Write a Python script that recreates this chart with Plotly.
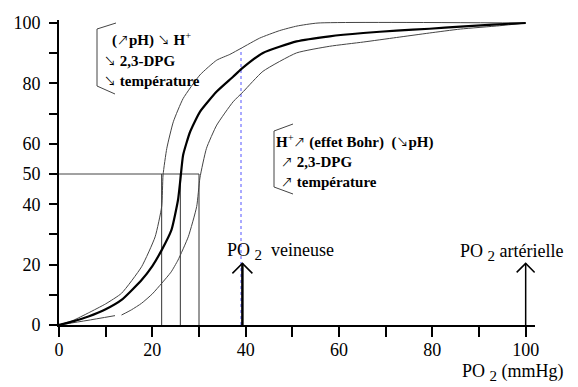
import plotly.graph_objects as go

# ---------------- data ----------------
# Normal HbO2 dissociation curve (thick)
main_x = [0, 3, 6.3, 10, 13.4, 17.7, 20, 22, 24.1, 25.5, 26, 26.6, 28.1, 30.2, 33.8, 37.3, 39.1,
          43.7, 50.9, 58, 65.2, 72.3, 79.4, 86, 93, 100]
main_y = [0, 1.2, 2.8, 5.2, 8.3, 14.9, 19.5, 24.8, 31.5, 41.4, 48, 56.3, 64, 70.6, 77.3, 82.2, 84.8,
          90.1, 93.9, 95.6, 96.7, 97.5, 98.1, 98.8, 99.5, 100]
# Left-shifted curve (higher affinity)
left_x = [0, 3, 6.3, 10, 13.4, 17.7, 20.6, 22, 22.3, 23.1, 24.5, 26.6, 30.2, 33.8, 36.6, 39.1,
          43, 47.3, 51, 55.5, 100]
left_y = [0, 1.5, 4, 7, 10.5, 19.3, 29.2, 39.2, 49.7, 58.5, 67.3, 75, 82.8, 87.7, 89.6, 91.7,
          95, 97.5, 99, 100, 100]
# Right-shifted curve (lower affinity) - small gap as in the original drawing
right_x = [0, 6, 12, None, 13.4, 15.5, 17.7, 20, 22, 24, 25.5, 27.7, 29.5, 30.2, 31.6, 33.8, 37.3,
           39.5, 43.7, 50.9, 58, 65.2, 72.3, 79.4, 86, 94.4, 100]
right_y = [0, 1.5, 3.1, None, 3.3, 5, 7.2, 10.3, 13.8, 17.5, 21.5, 29.2, 39.2, 48.7, 58.5, 66.2, 73.9,
           77.3, 84, 90.1, 92.3, 93.7, 95.2, 96.7, 98, 99.1, 100]

p50_values = [22, 26, 30]          # P50 of the three curves (mmHg)
half_saturation = 50               # %
po2_venous = 39                    # mmHg
po2_arterial = 100                 # mmHg
venous_sat_left = 91.7             # left curve value at venous PO2 (top of dotted line)
arrow_top = 20.4                   # arrows reach ~20 %

x_tickvals = [0, 10, 20, 30, 40, 50, 60, 70, 80, 90, 100]
x_ticktext = ["0", "", "20", "", "40", "", "60", "", "80", "", "100"]
y_tickvals = [0, 10, 20, 30, 40, 50, 60, 70, 80, 90, 100]
y_ticktext = ["0", "", "20", "", "40", "50", "60", "", "80", "", "100"]

# ---------------- layout geometry ----------------
W, H = 578, 387
ML, MR, MT, MB = 59, 43, 20, 62
XR = [0, 102]
YR = [0, 101]
px_x = (W - ML - MR) / (XR[1] - XR[0])   # pixels per x unit
px_y = (H - MT - MB) / (YR[1] - YR[0])   # pixels per y unit

SERIF = "Liberation Serif, Times New Roman, serif"

fig = go.Figure()

# reference lines at 50 %
fig.add_trace(go.Scatter(x=[0, max(p50_values)], y=[half_saturation, half_saturation], mode="lines",
                         line=dict(color="#444444", width=1), hoverinfo="skip", showlegend=False))
for p in p50_values:
    fig.add_trace(go.Scatter(x=[p, p], y=[0, half_saturation], mode="lines",
                             line=dict(color="#333333", width=1), hoverinfo="skip", showlegend=False))

# dotted venous line
fig.add_trace(go.Scatter(x=[po2_venous, po2_venous], y=[0, venous_sat_left], mode="lines",
                         line=dict(color="#5555ff", width=1, dash="dot"), hoverinfo="skip", showlegend=False))

# curves
fig.add_trace(go.Scatter(x=left_x, y=left_y, mode="lines",
                         line=dict(color="#444444", width=1, shape="spline", smoothing=0.5), showlegend=False))
fig.add_trace(go.Scatter(x=right_x, y=right_y, mode="lines",
                         line=dict(color="#444444", width=1, shape="spline", smoothing=0.5), showlegend=False))
fig.add_trace(go.Scatter(x=main_x, y=main_y, mode="lines",
                         line=dict(color="black", width=2.2, shape="spline", smoothing=0.5), showlegend=False))

# arrows (shaft + open chevron head)
def add_arrow(xv, top, width, half_px, tall_px):
    dx = half_px / px_x
    dy = tall_px / px_y
    fig.add_trace(go.Scatter(x=[xv, xv], y=[0, top], mode="lines",
                             line=dict(color="black", width=width), hoverinfo="skip", showlegend=False))
    fig.add_trace(go.Scatter(x=[xv - dx, xv, xv + dx], y=[top - dy, top, top - dy], mode="lines",
                             line=dict(color="black", width=1.5), hoverinfo="skip", showlegend=False))

add_arrow(po2_venous + 0.3, arrow_top, 2.5, 10, 10)
add_arrow(po2_arterial, arrow_top, 1.5, 9, 9)

# pixel -> data / paper helpers
def X(px):
    return (px - ML) / px_x

def Y(py):
    return (H - MB - py) / px_y

def PX(px):
    return (px - ML) / (W - ML - MR)

def PY(py):
    return (H - MB - py) / (H - MT - MB)

# brackets
shapes = [
    dict(type="path", xref="x", yref="y",
         path=f"M {X(116)},{Y(23)} L {X(97)},{Y(29)} L {X(97)},{Y(86)} L {X(115)},{Y(94)}",
         line=dict(color="#444444", width=1)),
    dict(type="path", xref="x", yref="y",
         path=f"M {X(293)},{Y(124)} L {X(274)},{Y(131)} L {X(274)},{Y(187)} L {X(293)},{Y(194)}",
         line=dict(color="#444444", width=1)),
]

AR = '<span style="font-family:\'Noto Sans CJK JP\';font-size:12px">{}</span>'
up, down = AR.format("↗"), AR.format("↘")
SUB2 = '<sub><span style="font-size:15px">2</span></sub>'
annotations = []
def txt(px, py, text, size=15):
    annotations.append(dict(x=PX(px), y=PY(py), xref="paper", yref="paper", text=text, showarrow=False,
                            xanchor="left", yanchor="middle",
                            font=dict(family=SERIF, size=size, color="black")))

txt(110, 40, f"<b>(</b>{up}<b>pH) </b>{down}<b> H</b><sup>+</sup>")
txt(102, 60, f"{down}<b> 2,3-DPG</b>")
txt(102, 80, f"{down}<b> température</b>")
txt(274, 141, f"<b>H</b><sup>+</sup>{up}<b> (effet Bohr)  (</b>{down}<b>pH)</b>")
txt(279, 161, f"{up}<b> 2,3-DPG</b>")
txt(279, 181, f"{up}<b> température</b>")

txt(225, 251, f"PO {SUB2}  veineuse", size=18)
txt(458, 252, f"PO {SUB2} artérielle", size=18)
txt(460, 372, f"PO {SUB2} (mmHg)", size=18)

fig.update_layout(
    width=W, height=H,
    margin=dict(l=ML, r=MR, t=MT, b=MB, pad=0),
    plot_bgcolor="white", paper_bgcolor="white",
    shapes=shapes, annotations=annotations,
    xaxis=dict(range=XR, showgrid=False, zeroline=False, showline=True, linecolor="black", linewidth=2,
               ticks="outside", ticklen=10, tickwidth=1.5, tickcolor="black",
               tickvals=x_tickvals, ticktext=x_ticktext, ticklabelstandoff=-3,
               tickfont=dict(family=SERIF, size=18, color="black")),
    yaxis=dict(range=YR, showgrid=False, zeroline=False, showline=True, linecolor="black", linewidth=2,
               ticks="outside", ticklen=8, tickwidth=1.5, tickcolor="black",
               tickvals=y_tickvals, ticktext=y_ticktext, ticklabelstandoff=5,
               tickfont=dict(family=SERIF, size=18, color="black")),
)

fig.write_html("out.html", config={"displayModeBar": False},
               post_script="document.body.style.margin='0';")
